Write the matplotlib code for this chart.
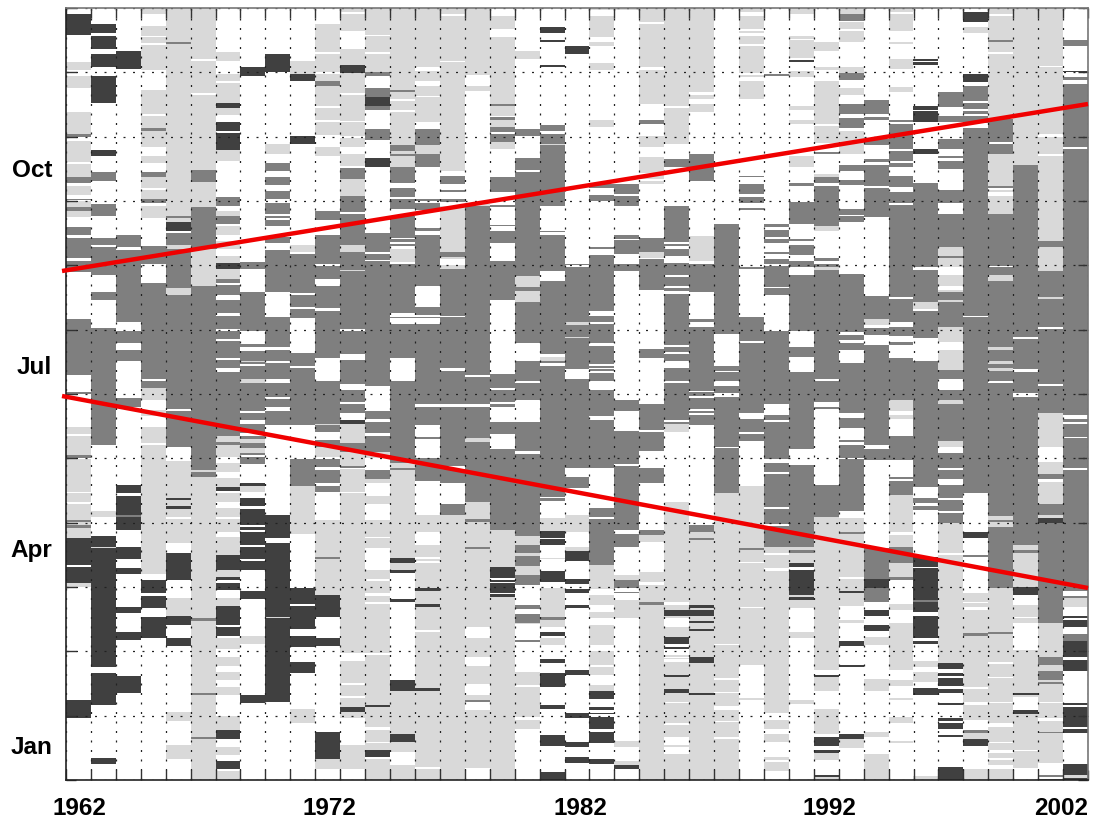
import numpy as np
import matplotlib
matplotlib.use("Agg")
import matplotlib.pyplot as plt
from matplotlib.colors import ListedColormap

# States: W none, L light, M medium, D dark
W, L, M, D = 0, 1, 2, 3
YEAR_UNITS = 772  # time of year counted back from 31 Dec, 772 units = 12 months

# Each year: state, end of the run, state, end of the run, ... from the year end backwards
y1962 = [W,7,D,28,W,55,L,63,W,69,L,81,W,105,L,127,M,130,W,134,L,155,W,157,L,170,M,176,W,179,L,188,W,192,M,193,W,194,L,200,M,204,L,210,W,220,M,228,W,231,M,251,W,254,M,265,W,312,M,368,W,385,M,387,W,419,L,426,W,428,L,447,M,450,W,451,L,484,W,485,L,494,W,496,L,512,M,514,L,517,M,520,L,530,D,557,W,559,D,575,L,579,W,692,D,710,W,772]
y1963 = [W,17,D,26,W,29,D,42,W,47,D,60,W,69,D,96,W,143,D,149,W,165,M,174,W,197,M,209,W,231,M,238,W,240,M,268,W,285,M,293,W,321,M,437,W,503,L,509,W,528,D,539,L,540,D,659,W,665,D,697,W,750,D,756,W,772]
y1964 = [W,44,D,62,W,228,M,240,W,243,M,315,W,324,M,336,W,343,M,354,W,390,M,399,W,477,D,485,W,488,D,507,M,509,D,522,W,539,D,551,W,560,D,566,W,599,D,605,W,624,D,632,W,668,D,685,W,772]
y1965 = [L,7,W,19,L,29,W,30,L,36,W,38,L,63,W,83,L,107,W,109,L,121,M,124,L,140,W,149,L,156,W,165,M,170,L,181,W,183,L,192,M,196,W,199,L,211,W,239,M,257,W,276,M,372,W,374,M,381,L,392,W,402,L,408,W,419,L,435,W,437,L,566,W,572,D,585,W,588,D,600,W,609,D,630,W,772]
y1966 = [L,35,M,37,L,209,M,211,L,215,D,224,W,226,M,238,L,242,M,281,L,288,M,401,W,403,M,439,W,453,L,490,D,492,L,498,D,501,L,509,W,511,L,535,W,545,D,572,W,590,L,608,D,617,W,630,D,638,W,704,L,713,W,737,L,751,W,772]
y1967 = [L,52,W,54,L,86,W,88,L,163,M,175,L,200,M,242,L,279,M,462,L,464,M,469,L,610,M,613,L,685,M,687,L,729,M,731,L,772]
y1968 = [W,45,L,54,W,67,L,74,W,76,L,96,D,101,L,108,W,115,D,124,W,126,D,143,L,154,W,190,M,199,W,204,L,209,M,217,W,219,L,228,W,234,L,242,W,249,L,256,D,262,L,272,M,276,W,278,M,288,W,293,M,306,W,309,M,322,W,324,M,332,W,334,M,351,W,353,M,361,W,365,M,428,L,434,M,437,L,449,W,455,L,464,W,470,L,479,D,483,W,485,L,494,W,500,L,509,W,511,L,524,W,529,L,547,D,562,L,569,D,572,W,575,D,582,W,590,L,598,D,617,W,619,D,628,W,630,L,641,W,649,L,658,W,664,L,672,W,679,L,687,W,708,L,722,D,731,W,739,L,747,W,753,D,761,W,763,L,772]
y1969 = [W,60,D,69,W,255,M,262,W,285,M,324,W,337,M,340,W,344,M,354,L,355,M,357,W,359,M,372,L,376,M,403,W,405,M,412,W,416,M,425,W,428,M,431,L,435,M,440,L,445,M,447,W,449,M,456,W,475,D,478,L,484,W,490,D,498,W,501,D,517,W,519,D,522,W,524,D,537,W,539,D,551,W,553,D,562,W,583,D,591,W,628,L,636,W,687,D,695,W,772]
y1970 = [W,47,D,65,W,137,L,147,W,156,M,164,W,170,M,178,W,184,M,192,W,196,M,207,W,209,M,211,W,213,M,219,W,230,M,236,W,243,M,285,W,310,M,340,W,343,M,354,W,356,M,372,W,376,M,389,W,391,M,399,W,403,M,417,W,507,D,530,W,535,D,609,L,610,D,694,W,772]
y1971 = [W,54,L,67,D,74,W,129,D,137,W,238,L,245,W,247,M,286,W,288,M,300,W,302,M,311,W,346,M,359,W,361,M,417,W,451,M,478,L,526,W,580,D,596,W,598,D,621,W,628,D,639,W,654,D,665,W,701,L,715,W,772]
y1972 = [W,17,L,45,W,47,L,65,W,67,L,74,M,79,L,99,W,101,L,113,W,115,L,128,W,140,L,149,W,204,M,213,W,228,M,257,W,259,M,272,W,279,M,301,W,304,M,351,W,374,M,416,L,417,M,424,W,432,M,439,L,449,W,451,M,459,W,462,M,475,W,478,M,484,W,512,L,549,M,551,L,587,D,609,W,630,D,638,W,724,D,751,L,761,W,772]
y1973 = [L,5,W,7,L,24,W,42,L,58,D,66,L,86,W,88,L,114,W,115,L,129,W,131,L,140,W,147,L,159,W,161,M,172,L,189,M,205,W,207,M,238,L,245,M,263,L,264,M,322,W,324,M,347,W,353,M,377,W,383,M,394,W,396,M,405,W,412,D,416,L,435,M,444,L,458,M,460,W,461,L,484,W,485,L,645,W,653,L,675,W,677,L,688,W,690,L,699,D,704,L,710,W,737,L,761,W,772]
y1974 = [L,28,W,29,L,45,W,47,L,65,M,69,W,81,M,90,D,99,M,103,W,122,M,133,W,151,D,160,W,226,M,245,W,247,M,253,W,254,M,379,W,403,M,411,W,414,M,425,W,428,M,444,L,450,W,462,M,471,L,475,W,488,L,496,W,512,L,529,W,530,L,540,W,562,L,571,W,573,L,585,W,588,L,594,W,596,L,645,W,647,L,697,D,699,L,719,W,722,L,734,W,735,L,742,D,749,W,751,L,772]
y1975 = [L,83,M,85,L,92,W,94,L,103,W,105,L,138,M,144,L,147,M,149,L,160,M,176,W,181,M,190,W,192,M,202,W,209,M,231,W,232,M,235,W,237,M,239,W,242,L,255,W,257,M,306,W,310,M,311,W,317,M,351,W,374,M,455,L,460,M,462,L,550,D,555,L,562,D,565,W,591,D,594,W,672,D,683,L,726,D,734,L,744,W,757,L,772]
y1976 = [L,60,W,64,L,74,W,79,L,89,W,90,L,115,W,122,M,138,L,147,M,160,W,192,M,194,W,196,M,203,W,221,M,224,W,228,M,279,W,300,M,308,W,310,M,311,W,317,M,396,W,399,M,417,W,429,M,431,W,450,M,473,W,507,L,524,W,537,L,549,W,551,L,553,W,555,L,580,D,583,L,596,D,599,L,622,W,624,L,680,D,683,L,759,W,761,L,772]
y1977 = [L,7,W,9,L,54,W,55,L,164,W,169,M,177,W,183,M,185,W,192,M,195,W,199,L,245,M,250,L,252,W,258,L,262,M,309,W,310,M,361,W,364,M,396,W,399,M,458,W,461,M,475,W,496,M,507,L,772]
y1978 = [L,68,W,79,L,84,W,197,L,199,M,368,W,370,M,396,W,399,M,430,L,434,M,494,L,511,M,514,L,539,M,541,L,619,W,630,L,649,W,658,L,676,W,687,L,692,M,694,W,702,L,760,W,772]
y1979 = [W,9,L,22,W,30,L,97,M,99,L,109,W,110,M,113,L,120,M,125,W,127,M,135,L,142,W,170,M,185,W,198,M,200,W,218,M,219,W,224,M,236,W,254,M,293,W,367,M,381,W,383,M,394,W,396,M,399,W,414,M,426,W,441,M,522,L,559,D,570,W,572,D,574,W,575,D,585,W,586,D,589,L,772]
y1980 = [W,44,L,52,W,122,M,129,W,151,M,163,W,165,M,269,L,280,M,284,L,295,M,336,W,354,M,374,W,376,M,392,W,414,M,443,W,446,M,528,L,537,M,545,L,548,M,558,L,567,M,577,W,597,M,601,W,606,M,615,L,616,W,632,M,634,W,664,L,677,W,679,L,709,W,712,L,721,W,772]
y1981 = [W,20,D,26,W,33,D,35,W,58,D,60,W,118,M,124,W,127,M,137,L,138,M,199,W,224,M,225,W,228,M,264,W,274,M,347,W,350,L,354,M,356,W,359,M,489,W,490,M,493,W,510,L,523,D,530,W,531,D,537,W,550,L,551,W,563,D,574,W,580,L,609,M,612,L,619,W,624,D,628,W,630,L,637,W,651,D,655,W,665,D,679,W,697,D,701,W,727,D,738,W,764,D,772]
y1982 = [W,39,D,47,W,257,M,258,W,260,M,315,L,318,M,330,L,331,M,362,W,372,M,460,W,469,M,480,W,507,L,524,W,539,L,543,D,553,W,571,D,576,W,581,D,585,W,597,D,600,W,662,D,667,W,705,D,710,W,734,D,739,W,749,D,755,W,772]
y1983 = [L,3,W,9,L,30,W,35,L,39,W,56,L,63,W,113,L,120,W,177,M,181,W,188,M,194,W,240,M,242,W,248,M,304,W,309,M,315,W,317,M,336,W,339,M,357,W,359,M,361,W,362,M,364,W,366,M,374,W,383,M,408,W,412,M,460,W,500,M,509,W,511,M,557,L,581,W,587,L,597,W,604,L,610,W,617,L,637,W,643,L,657,W,659,L,667,W,677,L,683,D,691,W,699,D,702,W,705,D,706,W,709,D,721,W,724,D,735,W,751,D,756,W,772]
y1984 = [L,3,W,177,M,187,W,189,M,199,W,228,M,232,W,233,M,247,W,257,M,264,W,392,M,403,W,423,M,456,W,458,M,522,W,526,M,539,W,567,L,572,M,580,W,584,M,585,W,592,L,610,W,733,L,739,W,753,L,757,D,761,W,772]
y1985 = [L,15,W,17,L,60,W,63,L,97,W,113,M,117,W,129,L,140,W,150,L,166,W,168,L,172,W,174,L,177,W,231,M,245,L,251,W,252,M,283,W,342,M,351,W,396,M,422,W,424,M,443,W,460,M,475,W,522,M,527,L,534,W,564,L,574,W,577,L,594,M,597,L,772]
y1986 = [L,99,W,101,L,137,W,152,M,160,W,199,M,235,W,237,M,239,W,242,M,249,W,256,M,268,W,270,M,279,W,281,M,284,W,287,M,338,W,340,M,345,W,347,M,354,W,361,M,374,W,376,M,412,W,414,M,416,L,424,W,494,L,594,W,597,L,602,D,608,L,610,W,619,L,629,D,636,W,639,D,641,W,647,L,649,W,650,L,651,W,654,L,667,D,669,L,681,D,685,L,694,W,695,L,715,W,717,L,729,W,737,L,739,W,746,L,772]
y1987 = [L,85,W,88,L,92,W,97,L,105,W,147,M,174,W,229,L,254,W,257,M,285,W,312,M,315,W,320,M,384,W,385,M,388,W,390,M,401,W,403,M,405,W,407,M,417,W,517,M,524,L,530,M,532,L,597,D,600,L,602,D,608,L,613,D,615,L,621,D,623,L,649,D,655,L,685,D,687,L,772]
y1988 = [W,217,M,327,W,359,M,364,W,365,M,374,W,379,M,386,W,389,M,439,W,440,M,485,L,636,W,637,L,670,W,672,L,684,W,685,L,698,W,702,L,713,W,714,L,729,W,731,L,772]
y1989 = [L,5,W,9,L,22,W,24,L,26,W,29,L,37,W,39,L,66,W,68,L,70,W,74,L,92,W,169,M,170,W,177,M,187,W,190,M,196,W,201,M,203,W,260,M,262,W,310,M,334,W,336,M,405,W,411,M,424,W,426,M,433,W,478,L,540,M,542,L,554,W,555,L,599,W,600,L,657,W,690,L,692,W,772]
y1990 = [W,67,M,69,W,217,M,220,W,223,M,230,W,232,M,236,W,245,M,247,W,252,M,257,W,259,M,280,W,281,M,288,W,324,M,396,W,407,M,412,W,414,M,451,W,455,M,464,W,466,M,499,W,501,M,516,W,518,M,539,L,545,W,547,L,560,W,563,L,705,W,712,L,721,W,726,L,734,W,749,L,752,W,754,L,763,W,772]
y1991 = [L,7,W,29,L,32,W,33,L,51,W,53,D,55,W,64,L,70,W,99,L,103,W,113,L,117,W,149,L,160,W,176,M,179,W,195,M,217,W,232,M,234,W,238,M,248,W,254,M,260,W,268,M,324,W,340,M,350,W,365,M,441,W,457,M,539,L,542,M,545,L,555,D,559,W,562,D,587,L,589,D,592,L,600,W,624,L,630,W,692,L,696,W,772]
y1992 = [W,35,L,44,W,60,L,63,W,74,L,117,W,119,L,136,W,145,M,147,W,167,L,170,M,176,W,179,M,219,L,224,W,251,M,254,W,257,M,260,L,263,M,372,W,374,M,394,W,399,M,401,W,477,M,509,L,662,W,667,D,669,L,683,W,701,L,726,W,729,D,738,W,742,D,745,L,752,W,767,D,769,L,772]
y1993 = [W,2,L,7,M,14,W,15,L,22,W,24,L,35,W,60,L,66,M,73,W,81,L,88,W,97,M,107,W,111,M,121,W,124,L,147,W,158,M,164,W,173,M,178,W,202,M,208,W,209,M,215,W,267,M,325,W,328,M,333,W,336,M,343,W,356,M,405,W,410,M,420,W,432,M,434,W,437,M,450,W,451,M,503,W,510,L,524,M,526,L,569,W,571,L,583,D,585,L,598,W,612,L,615,W,633,D,638,W,657,D,659,W,726,D,731,L,740,W,772]
y1994 = [W,93,M,107,W,110,M,113,W,132,M,138,W,152,M,155,W,158,M,179,W,181,M,210,W,289,M,312,L,318,W,321,M,328,W,338,M,437,W,441,M,452,W,540,M,571,D,580,M,594,W,602,D,608,W,617,D,623,W,629,L,637,W,671,L,683,W,724,L,729,W,746,L,772]
y1995 = [L,5,W,7,L,24,W,35,L,37,W,52,L,62,W,80,L,85,W,113,M,115,W,117,M,142,W,144,M,154,W,156,M,160,W,169,M,180,W,185,M,196,W,198,M,290,W,292,M,315,W,320,M,329,W,335,M,338,W,351,M,392,L,403,W,407,L,411,W,428,M,452,W,469,M,471,W,473,M,487,L,524,W,527,L,539,M,555,L,569,M,572,W,596,L,602,W,615,L,662,W,672,L,678,W,690,L,692,W,709,L,715,W,733,L,735,W,772]
y1996 = [W,52,D,54,W,55,D,58,W,99,D,103,W,104,D,115,W,142,D,147,W,176,M,260,W,263,M,295,L,302,W,304,M,331,W,354,M,479,W,490,M,495,W,498,M,502,W,549,D,559,W,560,D,592,M,594,D,604,W,608,D,630,W,633,D,636,W,653,L,659,W,664,L,674,W,680,D,687,W,768,L,772]
y1997 = [W,85,M,100,W,109,M,115,W,132,M,142,W,149,M,151,W,154,M,162,W,183,M,196,W,207,M,240,L,249,M,251,L,260,W,268,L,279,W,283,L,285,M,293,L,295,M,320,L,335,W,343,L,363,M,372,W,383,M,392,L,396,M,433,L,439,W,445,M,460,W,462,M,471,W,477,M,490,W,492,M,503,W,505,M,515,L,545,W,547,L,655,D,661,W,665,D,668,W,670,D,678,W,681,D,685,W,695,D,697,W,710,D,713,W,715,D,721,W,727,D,729,W,759,D,772]
y1998 = [W,5,D,15,W,20,L,26,W,67,D,75,W,79,M,94,W,96,M,102,W,104,M,107,W,109,M,116,W,121,M,309,W,310,M,485,W,524,D,530,W,547,M,549,W,585,L,594,W,595,L,599,W,602,L,625,M,628,L,679,W,681,L,694,W,697,L,712,W,722,M,725,L,731,D,738,W,761,L,772]
y1999 = [L,7,W,9,L,33,M,35,L,45,W,47,L,112,M,135,W,137,M,147,L,179,M,181,W,183,L,185,W,189,L,207,M,259,W,260,M,268,L,274,M,340,L,343,M,354,L,357,M,361,L,364,M,374,W,376,M,508,L,512,M,514,L,519,M,580,L,624,M,626,L,654,W,656,L,669,W,670,L,694,W,695,L,715,W,719,L,734,W,735,L,742,W,745,L,750,W,752,L,757,W,761,L,772]
y2000 = [L,158,M,330,W,332,M,362,W,365,M,386,W,389,M,537,L,542,M,545,L,579,D,587,W,597,L,609,W,610,L,615,W,642,L,685,D,687,L,689,W,702,D,706,L,742,W,743,L,760,W,772]
y2001 = [L,59,W,60,L,127,W,130,L,147,W,149,L,234,M,240,L,264,M,290,L,292,M,320,W,322,M,377,W,379,M,405,L,439,W,454,L,466,M,471,W,474,L,496,M,507,L,510,D,515,M,615,L,649,M,657,L,663,M,672,L,674,M,676,L,694,W,695,L,710,W,713,L,724,M,725,L,755,W,767,M,769,W,771,M,772]
y2002 = [W,33,M,39,W,64,D,65,W,70,M,73,W,77,M,140,W,142,M,407,W,411,M,414,W,416,M,429,W,430,M,460,W,462,M,583,W,588,M,590,L,599,W,608,D,610,W,612,D,619,W,626,M,633,D,649,W,652,D,663,W,695,D,697,W,699,D,719,W,721,D,725,W,756,D,767,L,770,D,772]

years = list(range(1962, 2003))
year_runs = [y1962,y1963,y1964,y1965,y1966,y1967,y1968,y1969,y1970,y1971,y1972,y1973,y1974,y1975,y1976,y1977,y1978,y1979,y1980,y1981,y1982,y1983,y1984,y1985,y1986,y1987,y1988,y1989,y1990,y1991,y1992,y1993,y1994,y1995,y1996,y1997,y1998,y1999,y2000,y2001,y2002]

year_labels = ["1962", "1972", "1982", "1992", "2002"]
year_label_at = [1962.02, 1972.08, 1982.12, 1992.12, 2002.49]
month_labels = ["Oct", "Jul", "Apr", "Jan"]
month_label_at = [160, 357, 540, 737]

# Trend lines bounding the dark season
trend_years = [1961.34, 2002.5]
upper_trend = [263, 96]
lower_trend = [388, 580]

matrix = np.zeros((YEAR_UNITS, len(years)), dtype=int)
for c, runs in enumerate(year_runs):
    start = 0
    for state, end in zip(runs[0::2], runs[1::2]):
        if end > start:
            matrix[start:end, c] = state
            start = end

plt.rcParams["font.family"] = ["Liberation Sans", "DejaVu Sans"]
fig = plt.figure(figsize=(11.07, 8.21), dpi=100)
ax = fig.add_axes([66/1107, 1-780/821, (1088-66)/1107, (780-8)/821])
cmap = ListedColormap(["#ffffff", "#d9d9d9", "#7f7f7f", "#404040"])
ax.imshow(matrix, cmap=cmap, vmin=0, vmax=3, aspect="auto", interpolation="nearest",
          extent=(years[0]-0.5, years[-1]+0.5, YEAR_UNITS, 0), zorder=1)

xb = np.arange(years[0]-0.5, years[-1]+1)
yb = np.linspace(0, YEAR_UNITS, 13)
ax.set_xticks(xb)
ax.set_yticks(yb)
ax.set_xticklabels([])
ax.set_yticklabels([])
ax.tick_params(which="major", direction="in", length=7.5, width=1.0, color="#333333",
               top=True, bottom=True, left=True, right=True)
ax.grid(True, which="major", color="#222222", lw=0.9, linestyle=(0, (1.6, 6.0)), zorder=2)
ax.set_axisbelow(False)

ax.set_xticks(year_label_at, minor=True)
ax.set_xticklabels(year_labels, minor=True, fontsize=17.5, fontweight="bold")
ax.set_yticks(month_label_at, minor=True)
ax.set_yticklabels(month_labels, minor=True, fontsize=17.5, fontweight="bold")
ax.tick_params(axis="x", which="minor", length=0, pad=12.5)
ax.tick_params(axis="y", which="minor", length=0, pad=10)
ax.get_xticklabels(minor=True)[-1].set_ha("right")

for name, s in ax.spines.items():
    s.set_color("#222222" if name in ("left", "bottom") else "#777777")
    s.set_linewidth(1.2)
    s.set_zorder(5)

ax.plot(trend_years, upper_trend, color="#f00000", lw=3.2, clip_on=False, zorder=6, solid_capstyle="butt")
ax.plot(trend_years, lower_trend, color="#f00000", lw=3.2, clip_on=False, zorder=6, solid_capstyle="butt")
ax.set_xlim(years[0]-0.5, years[-1]+0.5)
ax.set_ylim(YEAR_UNITS, 0)

fig.savefig("out.png", dpi=100)
